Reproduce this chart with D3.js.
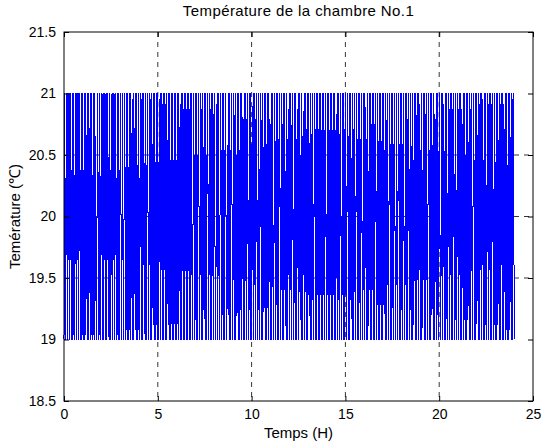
<!DOCTYPE html>
<html><head><meta charset="utf-8">
<script src="https://cdn.jsdelivr.net/npm/d3@7"></script>
<style>body{margin:0;background:#fff}svg{display:block}</style>
</head><body>
<script>
const titleText = "Température de la chambre No.1";
const xLabelText = "Temps (H)";
const yLabelText = "Temérature (℃)";
const xTicks = [0, 5, 10, 15, 20, 25];
const yTicks = [18.5, 19, 19.5, 20, 20.5, 21, 21.5];
const gridY = [19.5, 20, 20.5];
const timeSpan = [0, 24];
const temperature = [
19,21,19,20,21,19,21,19,21,20,19,21,19,21,19,19.9,21,19,21,19,21,20.1,19,21,
19,21,19,21,19,21,20,19,21,19,20.1,21,19,21,19,21,19,21,19.9,19,20,21,19,21,
19,20,21,19,21,19,21,19,21,19,21,20.2,19,21,19,19.8,21,19,21,19,21,20,19,21,
19,21,19,21,20,19,21,19,20,21,19,21,19,21,19,21,19,21,19.9,19,21,19,20.2,21,
19,21,19,21,19,20,21,19,21,19,21,20.1,19,21,19,21,20,19,21,19,21,19,19.9,21,
19,21,19,21,19,21,19,20,21,19,21,19,21,19,21,19,21,19,20,21,19,21,19,21,
19,21,19,21,19,21,19,21,19,21,20,19,21,19,21,19,21,19,21,19,21,19,21,19,
21,19,21,19,20,21,19,21,19,21,19,21,20,19,21,19,21,19,19.9,21,19,21,19,21,
20.2,19,21,19,21,19,21,19,21,20,19,20,21,19,21,19,20.1,21,19,21,19,21,19,21,
19.9,19,20,21,19,21,19,21,20,19,21,19,21,19,19.8,21,19,21,19,21,19,21,20.1,19,
21,19,21,19,21,20,19,21,19,21,19,20,21,19,21,19,21,20,19,21,19,20.2,21,19,
21,19,20,21,19,21,19,21,19,21,20,19,21,19,21,19,19.9,21,19,21,19,21,19,21,
20.1,19,21,19,21,19,21,19.8,19,21,19,20,21,19,21,19,21,20,19,21,19,21,19,20.1,
21,19,21,20,19,21,19,20,21,19,21,19,21,19,21,20.2,19,21,19,21,19,19.9,21,19,
21,19,21,19,21,19,21,19,21,19,21,19,21,20,19,21,19,21,19,21,19,21,19,21,
19,21,19,20,21,19,21,19,21,20,19,21,19,21,19,21,19,20.1,21,19,21,19,21,19.9,
19,21,19,21,19,20,21,19,21,19,21,19,21,20,19,21,19,21,20.1,19,21,19,19.8,21,
19,21,19,21,19,21,19,21,20,19,21,19,21,19,21,19,21,19,21,20,19,21,19,21,
19,20,21,19,21,19,21,19,21,20,19,21,19,20.1,21,19,21,19,21,19,21,19.9,19,21,
19,21,19,21,20.2,19,21,19,21,19,20,21,19,21,19,21,19,21,20,19,21,19,19.9,21,
19,21,19,21,19,20,21,19,21,19,21,20,19,21,19,20.1,21,19,21,19,21,19.8,19,21,
19,21,20,19,21,19,21,19,20,21,19,21,19,21,19,21,20.1,19,21,19,19.9,21,19,21,
19,21,19,20,21,19,21,19,21,19,21,20,19,21,19,21,19,20,21,19,21,19,21,20.1,
19,21,19,21,19,21,20,19,21,19,21,19,20,21,19,21,19,21,19,21,19.9,19,21,19,
21,19,21,20,19,21,19,21,19,21,19,20,21,19,21,19,21,19,21,20,19,21,19,21,
19
];

const W = 542, H = 443;
const L = 64, R = 533, T = 32, B = 401;
const font = "'Liberation Sans', Arial, sans-serif";
const fs = 14;

const svg = d3.select("body").append("svg").attr("width", W).attr("height", H);
svg.append("rect").attr("width", W).attr("height", H).attr("fill", "#fff");

const x = d3.scaleLinear().domain([xTicks[0], xTicks[xTicks.length-1]]).range([L, R]);
const y = d3.scaleLinear().domain([yTicks[0], yTicks[yTicks.length-1]]).range([B, T]);
const t = d3.scaleLinear().domain([0, temperature.length - 1]).range(timeSpan);

// grid (below data)
const grid = svg.append("g").attr("stroke", "#000").attr("stroke-width", 0.8)
  .attr("stroke-dasharray", "5,5").attr("fill", "none");
grid.selectAll("line.v").data(xTicks.slice(1, -1)).join("line")
  .attr("x1", d => x(d)).attr("x2", d => x(d)).attr("y1", T).attr("y2", B);
grid.selectAll("line.h").data(gridY).join("line")
  .attr("x1", L).attr("x2", R).attr("y1", d => y(d)).attr("y2", d => y(d));

svg.append("path")
  .datum(temperature)
  .attr("fill", "none")
  .attr("stroke", "#0000ff")
  .attr("stroke-width", 1)
  .attr("shape-rendering", "crispEdges")
  .attr("d", d3.line().x((d, i) => x(t(i))).y(d => y(d)));

function styleAxis(g, labels) {
  g.select(".domain").remove();
  g.selectAll(".tick line").attr("stroke", "#000");
  g.selectAll("text").attr("font-family", font).attr("font-size", fs).attr("fill", "#000");
  if (!labels) g.selectAll("text").remove();
}
svg.append("g").attr("transform", `translate(0,${B})`)
  .call(d3.axisBottom(x).tickValues(xTicks).tickSize(-5).tickPadding(8).tickFormat(d3.format("d")))
  .call(g => styleAxis(g, true));
svg.append("g").attr("transform", `translate(0,${T})`)
  .call(d3.axisTop(x).tickValues(xTicks).tickSize(-5))
  .call(g => styleAxis(g, false));
svg.append("g").attr("transform", `translate(${L},0)`)
  .call(d3.axisLeft(y).tickValues(yTicks).tickSize(-5).tickPadding(8).tickFormat(d => String(d)))
  .call(g => styleAxis(g, true));
svg.append("g").attr("transform", `translate(${R},0)`)
  .call(d3.axisRight(y).tickValues(yTicks).tickSize(-5))
  .call(g => styleAxis(g, false));

svg.append("rect").attr("x", L).attr("y", T).attr("width", R - L).attr("height", B - T)
  .attr("fill", "none").attr("stroke", "#000").attr("stroke-width", 1);

svg.append("text").attr("x", (L + R) / 2).attr("y", 16).attr("text-anchor", "middle")
  .attr("font-family", font).attr("font-size", 15).attr("letter-spacing", 0.4).text(titleText);
svg.append("text").attr("x", (L + R) / 2).attr("y", 438).attr("text-anchor", "middle")
  .attr("font-family", font).attr("font-size", 15).text(xLabelText);
svg.append("text").attr("transform", `translate(20,${(T + B) / 2}) rotate(-90)`)
  .attr("text-anchor", "middle").attr("font-family", font).attr("font-size", 15).text(yLabelText);
</script>
</body></html>
